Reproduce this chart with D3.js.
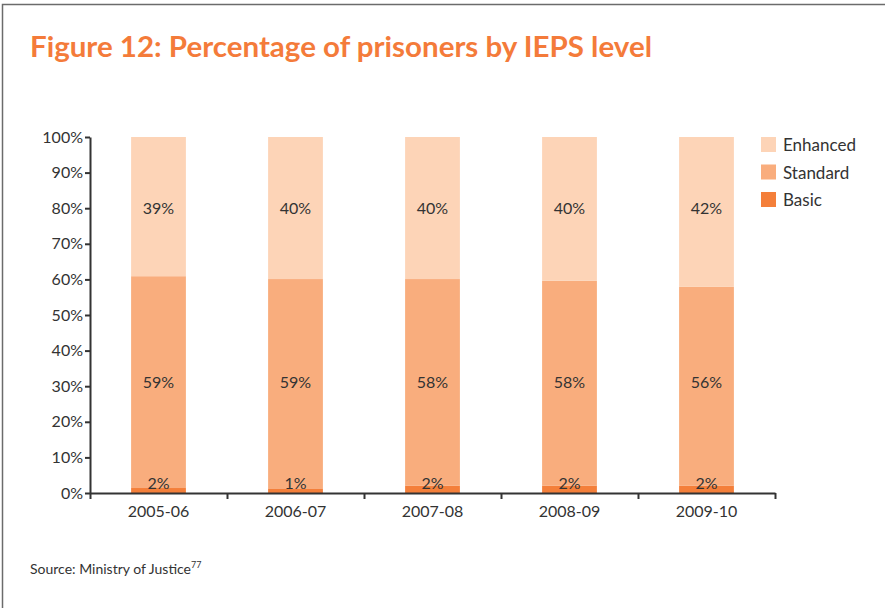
<!DOCTYPE html>
<html>
<head>
<meta charset="utf-8">
<script src="https://cdn.jsdelivr.net/npm/d3@7"></script>
<style>
  body { margin: 0; background: #fff; }
  svg { display: block; font-family: Lato, "Open Sans", sans-serif; }
</style>
</head>
<body>
<div id="chart"></div>
<script>
const years = ['2005-06', '2006-07', '2007-08', '2008-09', '2009-10'];
const basic = [1.4, 1.3, 2.1, 2.1, 2.1];
const standard = [59.5, 58.8, 58.0, 57.5, 55.8];
const enhanced = [39.1, 39.9, 39.9, 40.4, 42.1];
const basicLabels = ['2%', '1%', '2%', '2%', '2%'];
const standardLabels = ['59%', '59%', '58%', '58%', '56%'];
const enhancedLabels = ['39%', '40%', '40%', '40%', '42%'];
const yTicks = [0, 10, 20, 30, 40, 50, 60, 70, 80, 90, 100];

const width = 885;
const height = 608;
const margin = { top: 137, bottom: 115, left: 90, right: 110 };

const series = [
  { name: 'Basic', values: basic, labels: basicLabels, color: '#f47f3a' },
  { name: 'Standard', values: standard, labels: standardLabels, color: '#f9ad7d' },
  { name: 'Enhanced', values: enhanced, labels: enhancedLabels, color: '#fdd4b7' }
];

const svg = d3.select('#chart')
  .append('svg')
  .attr('width', width)
  .attr('height', height);

// page frame
svg.append('path')
  .attr('d', `M2.5,${height} V4.5 H${width}`)
  .attr('fill', 'none')
  .attr('stroke', '#6b6b6b')
  .attr('stroke-width', 1.5);

svg.append('text')
  .attr('x', 30)
  .attr('y', 57)
  .attr('fill', '#f47b3a')
  .attr('font-size', '29px')
  .attr('font-weight', 'bold')
  .attr('textLength', 622)
  .attr('lengthAdjust', 'spacingAndGlyphs')
  .text('Figure 12: Percentage of prisoners by IEPS level');

const x = d3.scaleBand()
  .domain(years)
  .range([margin.left, width - margin.right])
  .paddingInner(0.6)
  .paddingOuter(0.3);

const y = d3.scaleLinear()
  .domain([0, 100])
  .range([height - margin.bottom, margin.top]);

// stack the series
const stacked = years.map((yr, i) => {
  let acc = 0;
  return series.map(s => {
    const y0 = acc;
    acc += s.values[i];
    return { year: yr, name: s.name, y0: y0, y1: Math.min(acc, 100), label: s.labels[i], color: s.color };
  });
});
const segs = stacked.flat();

// labels sit on one row per series, at the average segment middle
const labelLevel = {};
series.forEach(s => {
  labelLevel[s.name] = d3.mean(segs.filter(d => d.name === s.name), d => (d.y0 + d.y1) / 2);
});

svg.append('g')
  .selectAll('rect')
  .data(segs)
  .join('rect')
    .attr('x', d => x(d.year))
    .attr('y', d => y(d.y1))
    .attr('width', x.bandwidth())
    .attr('height', d => y(d.y0) - y(d.y1))
    .attr('fill', d => d.color);

svg.append('g')
  .attr('font-size', '16px')
  .attr('fill', '#333')
  .attr('text-anchor', 'middle')
  .selectAll('text')
  .data(segs)
  .join('text')
    .attr('x', d => x(d.year) + x.bandwidth() / 2)
    .attr('y', d => d.name === 'Basic' ? y(0) - 4 : y(labelLevel[d.name]) + 5)
    .text(d => d.label);

function yAxis(g) {
  g.attr('transform', `translate(${margin.left},0)`)
    .call(d3.axisLeft(y).tickValues(yTicks).tickFormat(d => d + '%').tickSize(5).tickSizeOuter(0))
    .attr('font-size', '16px')
    .attr('font-family', null);
  g.selectAll('.domain, line').attr('stroke', '#333').attr('stroke-width', 2);
  g.selectAll('text').attr('fill', '#333').attr('x', -7);
}

// tick marks sit between categories
const xEdges = d3.scaleLinear()
  .domain([0, years.length])
  .range([margin.left, width - margin.right]);

function xAxis(g) {
  g.attr('transform', `translate(0,${y(0)})`)
    .call(d3.axisBottom(xEdges).ticks(years.length).tickFormat('').tickSize(6).tickSizeOuter(0));
  g.selectAll('.domain, line').attr('stroke', '#333').attr('stroke-width', 2);
}

function xLabels(g) {
  g.attr('transform', `translate(0,${y(0)})`)
    .call(d3.axisBottom(x).tickSize(0).tickPadding(13))
    .attr('font-size', '16px')
    .attr('font-family', null);
  g.select('.domain').remove();
  g.selectAll('text').attr('fill', '#333');
}

svg.append('g').call(xAxis);
svg.append('g').call(xLabels);
svg.append('g').call(yAxis);

// legend
const legend = svg.append('g')
  .attr('transform', 'translate(761,137)')
  .selectAll('g')
  .data(series.slice().reverse())
  .join('g')
    .attr('transform', (d, i) => `translate(0,${i * 27.5})`);

legend.append('rect')
  .attr('width', 15)
  .attr('height', 15)
  .attr('fill', d => d.color);

legend.append('text')
  .attr('x', 22)
  .attr('y', 14)
  .attr('font-size', '17px')
  .attr('fill', '#333')
  .text(d => d.name);

const src = svg.append('text')
  .attr('x', 30)
  .attr('y', 574)
  .attr('font-size', '14px')
  .attr('fill', '#333')
  .text('Source: Ministry of Justice');
src.append('tspan')
  .attr('dy', -6)
  .attr('font-size', '9px')
  .text('77');
</script>
</body>
</html>
